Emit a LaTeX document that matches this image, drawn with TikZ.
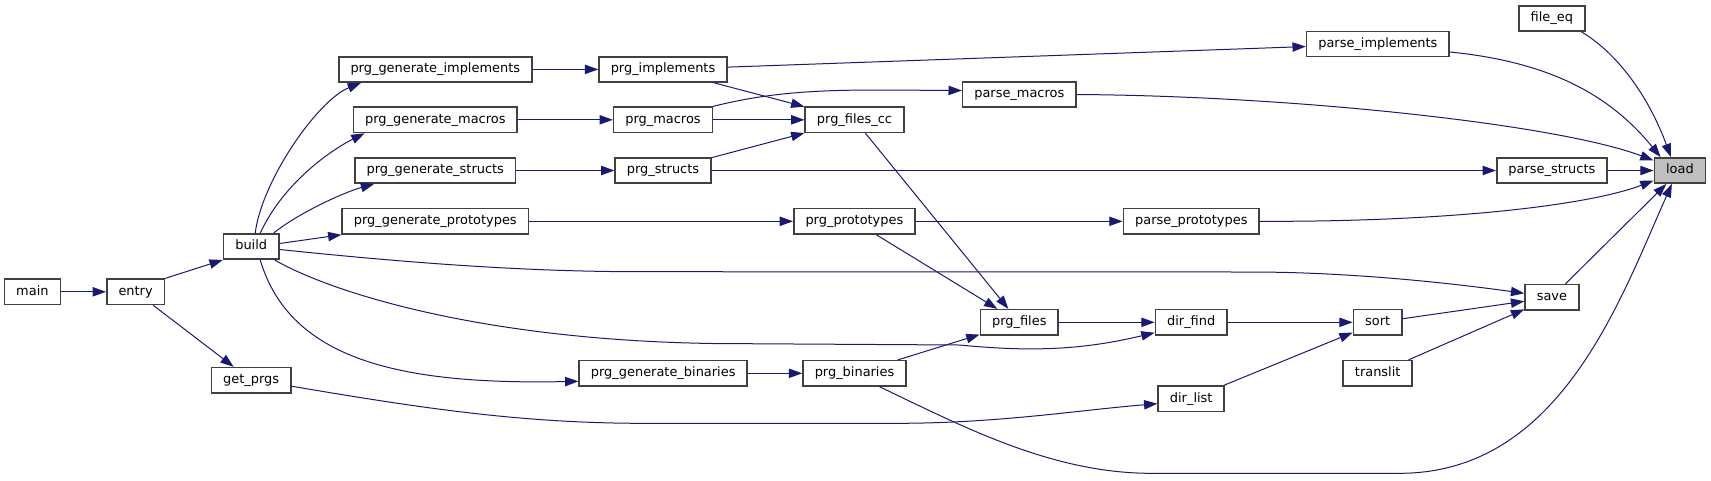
\documentclass[tikz,border=0pt]{standalone}
\usepackage{fontspec}
\setmainfont{DejaVu Sans}
\usetikzlibrary{calc,arrows.meta}
\definecolor{edgeblue}{HTML}{191970}
\definecolor{boxgrey}{HTML}{404040}
\definecolor{curgrey}{HTML}{BFBFBF}

\begin{document}
\begin{tikzpicture}[x=0.75pt,y=-0.75pt,font=\fontsize{9.7}{11.6}\selectfont,
  fn/.style={draw=boxgrey,line width=1.15pt,fill=white,minimum height=19pt,
    inner xsep=8.8pt,inner ysep=0pt,text height=7.3pt,text depth=2.2pt},
  call/.style={draw=edgeblue,line width=0.75pt,-{Triangle[length=10pt,width=7pt]}}]
  \useasboundingbox (0,0) rectangle (1711,480);
  % functions
  \node[fn] (main)       at (32.4,291.8)   {main};
  \node[fn] (entry)      at (135.6,291.8)  {entry};
  \node[fn] (build)      at (251.2,246.5)  {build};
  \node[fn] (getprgs)    at (251.2,380.2)  {get\_prgs};
  \node[fn] (genimpl)    at (435.3,69.4)   {prg\_generate\_implements};
  \node[fn] (genmacros)  at (435.3,119.8)  {prg\_generate\_macros};
  \node[fn] (genstructs) at (435.3,170.5)  {prg\_generate\_structs};
  \node[fn] (genproto)   at (435.3,221.3)  {prg\_generate\_prototypes};
  \node[fn] (genbin)     at (663.2,373.3)  {prg\_generate\_binaries};
  \node[fn] (impl)       at (663,69.4)     {prg\_implements};
  \node[fn] (macros)     at (663,119.8)    {prg\_macros};
  \node[fn] (structs)    at (663,170.5)    {prg\_structs};
  \node[fn] (filescc)    at (854.5,119.8)  {prg\_files\_cc};
  \node[fn] (proto)      at (854.4,221.3)  {prg\_prototypes};
  \node[fn] (binaries)   at (854.5,373.3)  {prg\_binaries};
  \node[fn] (files)      at (1019.3,322.3) {prg\_files};
  \node[fn] (pmacros)    at (1019.3,94.5)  {parse\_macros};
  \node[fn] (pproto)     at (1191.3,221.3) {parse\_prototypes};
  \node[fn] (dirfind)    at (1191.2,322.3) {dir\_find};
  \node[fn] (dirlist)    at (1191.2,398.7) {dir\_list};
  \node[fn] (pimpl)      at (1377.9,44)    {parse\_implements};
  \node[fn] (sort)       at (1377.7,322.3) {sort};
  \node[fn] (translit)   at (1377.7,373.3) {translit};
  \node[fn] (fileeq)     at (1551.9,18.5)  {file\_eq};
  \node[fn] (pstructs)   at (1551.9,170.5) {parse\_structs};
  \node[fn] (save)       at (1551.9,297.3) {save};
  \node[fn,fill=curgrey] (load) at (1679.9,170.5) {load};
  % straight calls
  \draw[call] (main) -- (entry);
  \draw[call] (entry.north east) -- (build.south west);
  \draw[call] (entry) -- (getprgs);
  \draw[call] ($(build.east)+(0,-3)$) -- (genproto.south west);
  \draw[call] (genimpl) -- (impl);
  \draw[call] (genmacros) -- (macros);
  \draw[call] (genstructs) -- (structs);
  \draw[call] (genproto) -- (proto);
  \draw[call] (genbin) -- (binaries);
  \draw[call] (impl) -- (filescc);
  \draw[call] (impl) -- (pimpl);
  \draw[call] (macros) -- (filescc);
  \draw[call] (structs) -- (filescc);
  \draw[call] (structs) -- (pstructs);
  \draw[call] (proto) -- (pproto);
  \draw[call] (proto) -- (files);
  \draw[call] (filescc) -- (files);
  \draw[call] (binaries) -- (files);
  \draw[call] (files) -- (dirfind);
  \draw[call] (dirfind) -- (sort);
  \draw[call] (dirlist) -- (sort);
  \draw[call] (sort) -- (save);
  \draw[call] (translit) -- (save);
  \draw[call] (save) -- (load);
  \draw[call] (pstructs) -- (load);
  % curved calls out of build
  \draw[call] ($(build.north)+(4,0)$) .. controls (262,180) and (318,100) .. ($(genimpl.south west)+(23,0)$);
  \draw[call] ($(build.north)+(9,0)$) .. controls (285,180) and (335,148) .. ($(genmacros.south west)+(12,0)$);
  \draw[call] ($(build.north east)+(-6,0)$) .. controls (300,212) and (345,192) .. ($(genstructs.south west)+(20,0)$);
  \draw[call] ($(build.east)+(0,3)$) .. controls (400,262) and (520,271.7) .. (640,271.7)
    -- (1250,272) .. controls (1350,272) and (1450,283) .. ($(save.west)+(0,-4)$);
  \draw[call] ($(build.south east)+(-5,0)$) .. controls (330,292) and (480,340) .. (713,343.5)
    -- (960,345) .. controls (1040,353) and (1090,348) .. ($(dirfind.south west)+(0,-3)$);
  \draw[call] ($(build.south)+(9,0)$) .. controls (290,360) and (400,385) .. ($(genbin.west)+(0,8)$);
  \draw[call] ($(getprgs.east)+(0,6)$) .. controls (420,408) and (520,423) .. (640,423.3)
    -- (900,423.3) .. controls (1000,423) and (1080,410) .. ($(dirlist.west)+(0,5)$);
  % curved calls towards load
  \draw[call] (macros.north east) .. controls (770,92) and (820,90) .. (880,90) -- ($(pmacros.west)+(0,-4)$);
  \draw[call] ($(binaries.south)+(25,0)$) .. controls (960,425) and (1050,473) .. (1150,473.3)
    -- (1400,473.3) .. controls (1560,473) and (1620,300) .. ($(load.south)+(-8,0)$);
  \draw[call] ($(fileeq.south east)+(-4,0)$) .. controls (1620,55) and (1650,100) .. ($(load.north)+(-9,0)$);
  \draw[call] ($(pimpl.east)+(0,8)$) .. controls (1550,62) and (1610,95) .. ($(load.north west)+(7,0)$);
  \draw[call] (pmacros.east) .. controls (1300,96) and (1560,125) .. ($(load.west)+(0,-10)$);
  \draw[call] (pproto.east) .. controls (1450,222) and (1590,205) .. ($(load.west)+(0,10)$);
\end{tikzpicture}
\end{document}
